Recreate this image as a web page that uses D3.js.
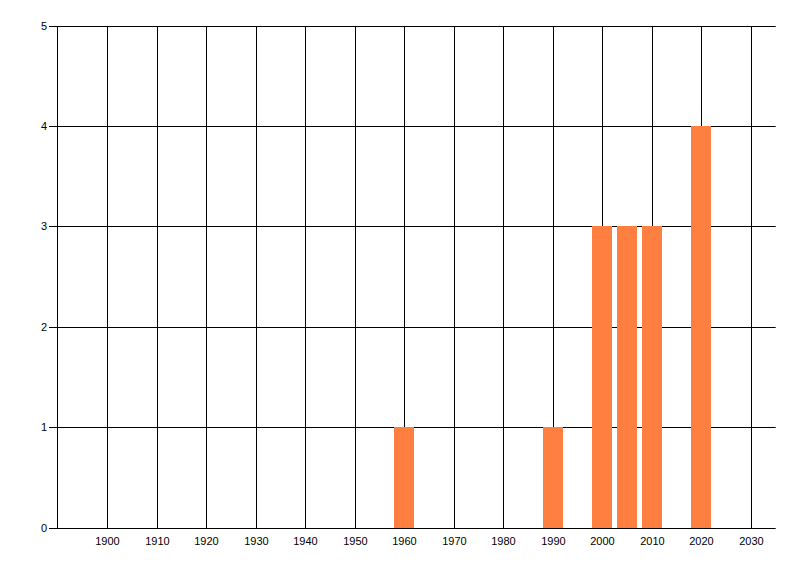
<!DOCTYPE html>
<html><head><meta charset="utf-8">
<script src="https://cdn.jsdelivr.net/npm/d3@7"></script>
<style>body{margin:0;background:#fff;}svg{display:block;}</style>
</head><body>
<svg id="c" width="800" height="576"></svg>
<script>
const years = [1960, 1990, 2000, 2005, 2010, 2020];
const counts = [1, 1, 3, 3, 3, 4];
const xTicks = [1900, 1910, 1920, 1930, 1940, 1950, 1960, 1970, 1980, 1990, 2000, 2010, 2020, 2030];
const yTicks = [0, 1, 2, 3, 4, 5];

const svg = d3.select("#c");
const L = 57.5, R = 775.7, T = 26.5, B = 528.5;
const x = d3.scaleLinear().domain([1890, 2035]).range([L, R]);
const y = d3.scaleLinear().domain([0, 5]).range([B, T]);
const font = "'Liberation Sans', Arial, sans-serif";

// vertical gridlines
svg.append("g").selectAll("line").data(xTicks).join("line")
  .attr("x1", d => Math.round(x(d)) + 0.5).attr("x2", d => Math.round(x(d)) + 0.5)
  .attr("y1", T).attr("y2", B)
  .attr("stroke", "#000").attr("stroke-width", 1);

// horizontal gridlines
svg.append("g").selectAll("line").data(yTicks).join("line")
  .attr("x1", 49).attr("x2", R)
  .attr("y1", d => Math.round(y(d)) - 0.5).attr("y2", d => Math.round(y(d)) - 0.5)
  .attr("stroke", "#000").attr("stroke-width", 1);

// y axis line
svg.append("line").attr("x1", L).attr("x2", L).attr("y1", T).attr("y2", B)
  .attr("stroke", "#000");

// bars (on top of the grid)
svg.append("g").selectAll("rect").data(years).join("rect")
  .attr("x", (d) => Math.round(x(d - 2)))
  .attr("width", (d) => Math.round(x(d + 2)) - Math.round(x(d - 2)))
  .attr("y", (d, i) => Math.round(y(counts[i])) - 1)
  .attr("height", (d, i) => Math.round(y(0)) - Math.round(y(counts[i])))
  .attr("fill", "#FF7F40");

// y labels
svg.append("g").selectAll("text").data(yTicks).join("text")
  .attr("x", 47).attr("y", d => Math.round(y(d)) - 0.5)
  .attr("dy", "0.35em").attr("text-anchor", "end")
  .attr("font-family", font).attr("font-size", 11).attr("fill", "#000")
  .text(d => d);

// x labels
svg.append("g").selectAll("text").data(xTicks).join("text")
  .attr("x", d => Math.round(x(d)) + 0.5).attr("y", 545)
  .attr("text-anchor", "middle")
  .attr("font-family", font).attr("font-size", 11).attr("fill", "#000")
  .text(d => d);
</script>
</body></html>
